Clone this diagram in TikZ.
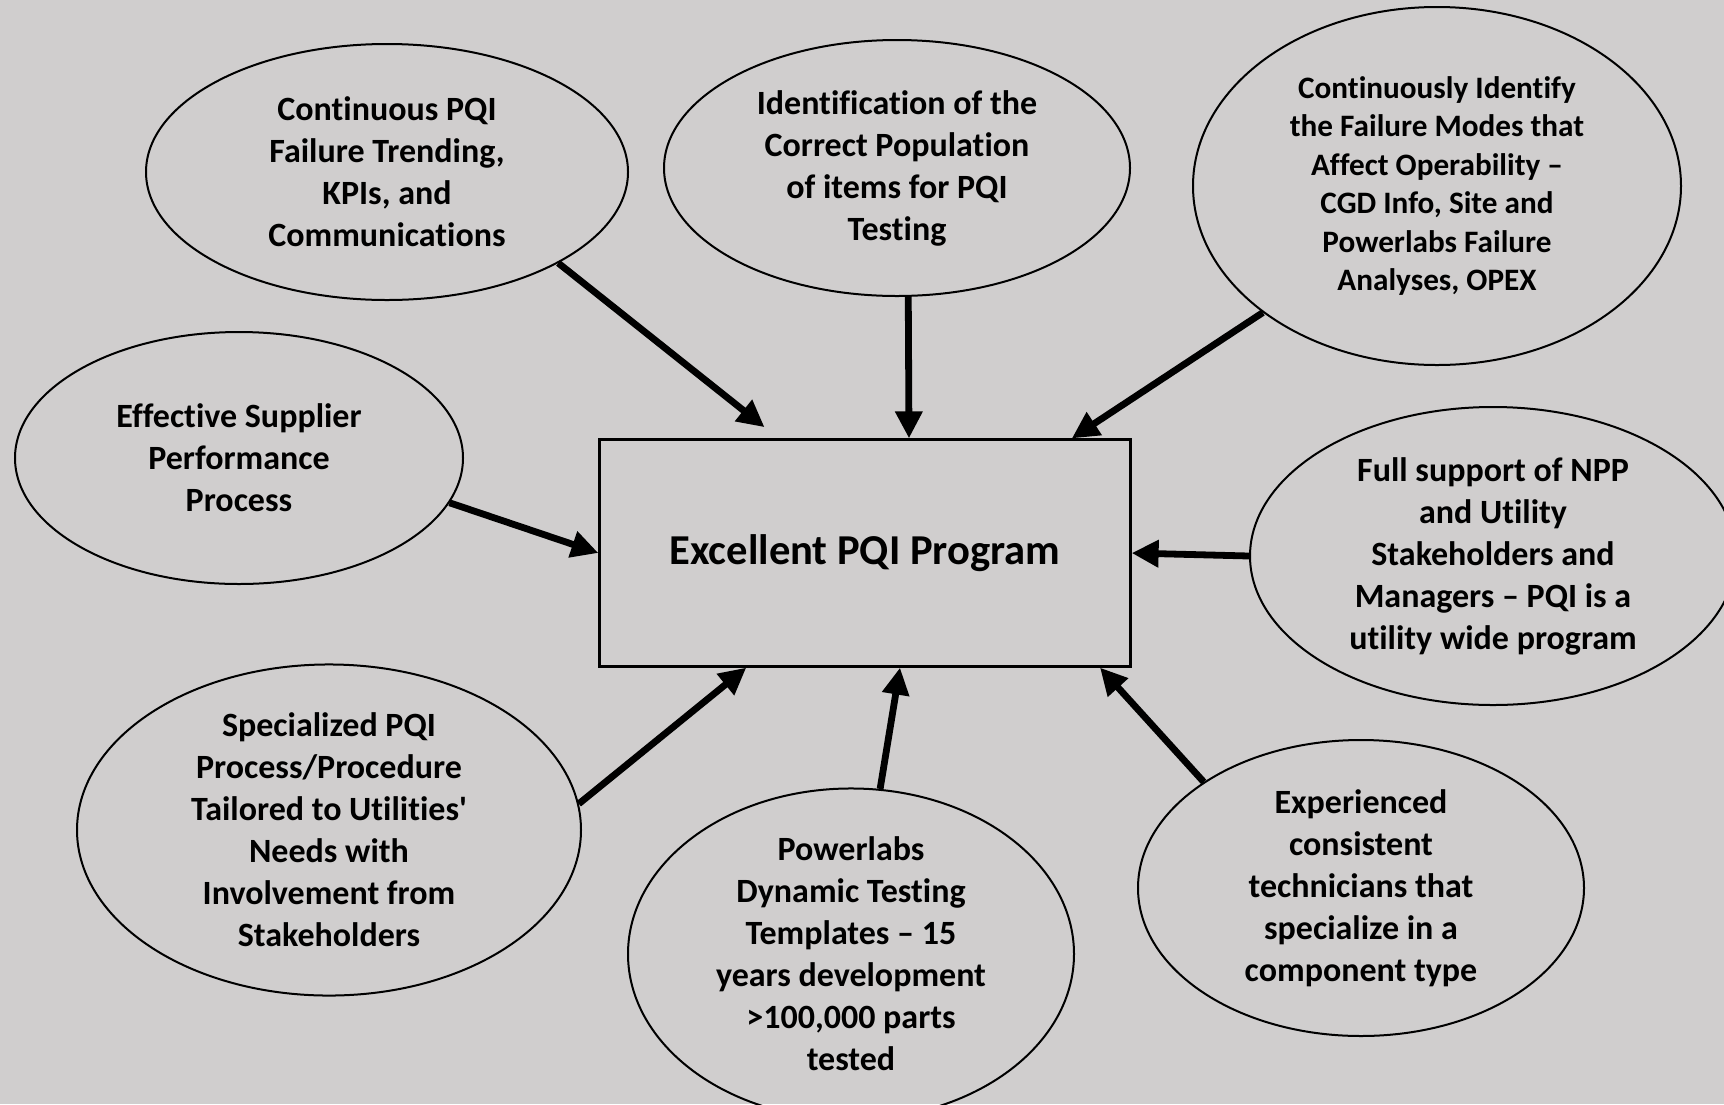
\documentclass[tikz,border=0pt]{standalone}
\usepackage{fontspec}
\setmainfont{Carlito}[Ligatures=NoCommon]
\usetikzlibrary{shapes.geometric,arrows.meta}
\definecolor{bggray}{RGB}{208,206,206}
\begin{document}
\begin{tikzpicture}[x=0.5pt,y=-0.5pt,
        bubble/.style={draw=black, line width=1pt, ellipse, inner sep=0pt,
            align=center, font=\fontsize{17}{21}\selectfont\bfseries},
        feed/.style={line width=3.4pt, -{Triangle[length=13.5pt,width=13pt]}}]
        \useasboundingbox[fill=bggray] (0,0) rectangle (1724,1104);
        % Centre box.
            \node[draw=black, line width=1.1pt, minimum width=265.5pt, minimum height=113.5pt,
                font=\fontsize{21.3}{25}\selectfont\bfseries] (prog) at (865,553) {Excellent PQI Program};
        % Below nodes are the surrounding bubbles.
            \node[bubble, minimum width=241pt, minimum height=128pt] (trend) at (387,172)
                {Continuous PQI\\Failure Trending,\\KPIs, and\\Communications};
            \node[bubble, minimum width=233pt, minimum height=128pt] (popul) at (897,168)
                {Identification of the\\Correct Population\\of items for PQI\\Testing};
            \node[bubble, minimum width=244pt, minimum height=179pt,
                font=\fontsize{15.6}{19.2}\selectfont\bfseries] (modes) at (1437,186)
                {Continuously Identify\\the Failure Modes that\\Affect Operability --\\CGD Info, Site and\\Powerlabs Failure\\Analyses, OPEX};
            \node[bubble, minimum width=224pt, minimum height=126pt] (suppl) at (239,458)
                {Effective Supplier\\Performance\\Process};
            \node[bubble, minimum width=243pt, minimum height=149pt] (stake) at (1493,556)
                {Full support of NPP\\and Utility\\Stakeholders and\\Managers -- PQI is a\\utility wide program};
            \node[bubble, minimum width=252pt, minimum height=152pt] (proc) at (329,830)
                {Specialized PQI\\Process/Procedure\\Tailored to Utilities\textquotesingle\\Needs with\\Involvement from\\Stakeholders};
            \node[bubble, minimum width=223pt, minimum height=150pt] (templ) at (851,954)
                {Powerlabs\\Dynamic Testing\\Templates -- 15\\years development\\>100,000 parts\\tested};
            \node[bubble, minimum width=223pt, minimum height=148pt] (techs) at (1361,888)
                {Experienced\\consistent\\technicians that\\specialize in a\\component type};
        % This draws the arrows into the box.
            \draw[feed, shorten >=9pt] (trend.-28) -- (prog.127);
            \draw[feed] (popul.-85) -- (prog.69.5);
            \draw[feed] (modes.216.5) -- (prog.29.2);
            \draw[feed] (suppl.-12) -- (prog.west);
            \draw[feed] (stake.west) -- (prog.east);
            \draw[feed] (proc.6) -- (prog.-136.4);
            \draw[feed] (templ.80) -- (prog.-73);
            \draw[feed] (techs.146.2) -- (prog.-26);
    \end{tikzpicture}
\end{document}
